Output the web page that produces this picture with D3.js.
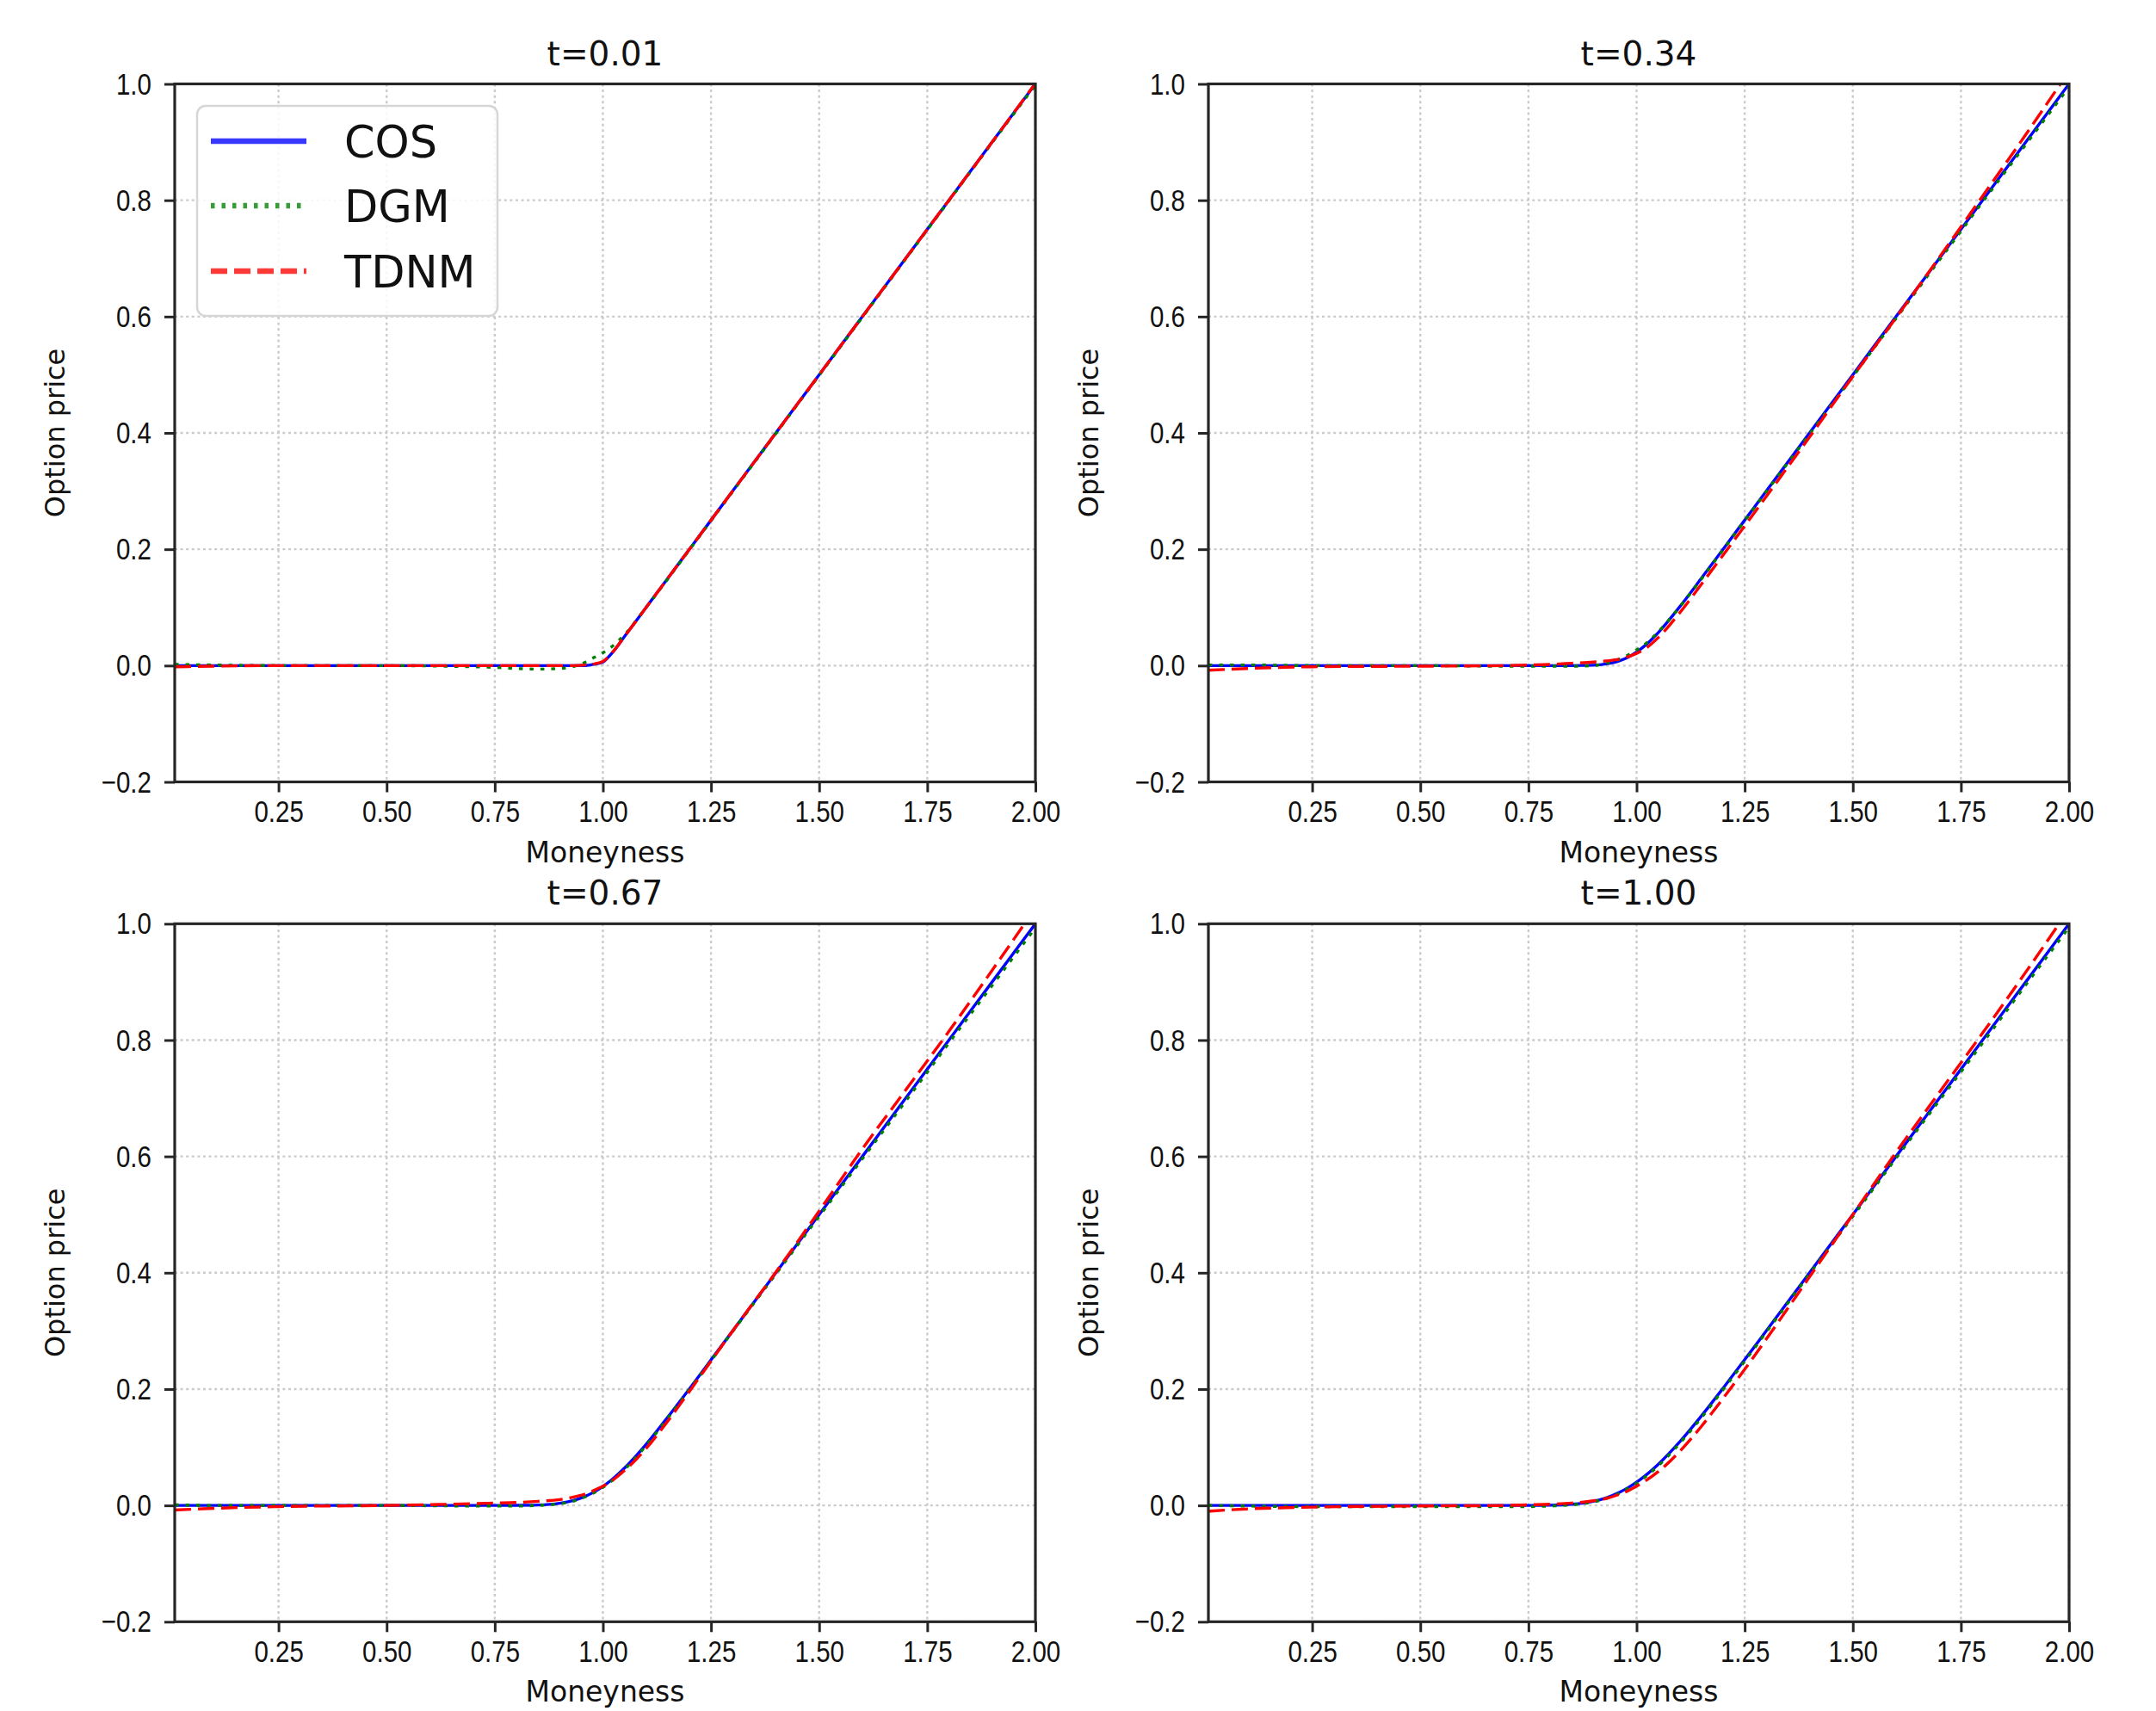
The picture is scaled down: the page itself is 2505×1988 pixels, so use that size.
<!DOCTYPE html>
<html>
<head>
<meta charset="utf-8">
<script src="https://cdn.jsdelivr.net/npm/d3@7"></script>
<style>
body{margin:0;background:#fff;}
svg{display:block;font-family:"DejaVu Sans",sans-serif;}
</style>
</head>
<body>
<script>
//moneyness grid shared by every panel
var moneyness=[0.01,0.1,0.25,0.5,0.7,0.75,0.8,0.85,0.9,0.93,0.96,0.98,1.0,1.02,1.05,1.1,1.15,1.2,1.25,1.3,1.4,1.5,1.6,1.7,1.8,1.9,2.0];

//panel titles and legend names
var titles=["t=0.01","t=0.34","t=0.67","t=1.00"];
var methods=["COS","DGM","TDNM"];

//tick values
var xTicks=[0.25,0.50,0.75,1.00,1.25,1.50,1.75,2.00];
var yTicks=[-0.2,0.0,0.2,0.4,0.6,0.8,1.0];

//t=0.01
var cos001=[0,0,0,0,0,0,0,0,0,0,0.0002,0.0023,0.006,0.0205,0.05,0.1,0.15,0.2,0.25,0.3,0.4,0.5,0.6,0.7,0.8,0.9,1.0];
var dgm001=[0.002,0.001,0,0,-0.002,-0.003,-0.005,-0.006,-0.005,-0.002,0.006,0.014,0.022,0.032,0.053,0.1,0.149,0.199,0.249,0.299,0.399,0.499,0.599,0.699,0.799,0.899,0.998];
var tdnm001=[-0.002,-0.001,0,0,0,0,0,0,0,0,0.001,0.003,0.007,0.021,0.05,0.1,0.15,0.2,0.25,0.3,0.4,0.5,0.6,0.7,0.8,0.9,1.001];

//t=0.34
var cos034=[0,0,0,0,0,0,0,0,0.0007,0.0029,0.0081,0.0143,0.0233,0.0347,0.0566,0.1013,0.1502,0.2,0.25,0.3,0.4,0.5,0.6,0.7,0.8,0.9,1.0];
var dgm034=[0.001,0.001,0,0,-0.001,-0.001,-0.001,-0.001,0,0.004,0.011,0.018,0.027,0.037,0.058,0.101,0.149,0.199,0.249,0.299,0.398,0.497,0.597,0.697,0.797,0.896,0.995];
var tdnm034=[-0.008,-0.005,-0.002,-0.001,0,0.001,0.002,0.004,0.006,0.008,0.011,0.015,0.021,0.029,0.048,0.091,0.14,0.19,0.24,0.291,0.393,0.497,0.598,0.702,0.807,0.913,1.022];

//t=0.67
var cos067=[0,0,0,0,0,0,0.0001,0.0007,0.0037,0.0081,0.0159,0.0233,0.0327,0.0439,0.0642,0.1052,0.1517,0.2004,0.2501,0.3,0.4,0.5,0.6,0.7,0.8,0.9,1.0];
var dgm067=[0.001,0,0,0,-0.001,-0.001,-0.001,0,0.003,0.007,0.015,0.022,0.031,0.042,0.062,0.103,0.15,0.199,0.249,0.299,0.398,0.497,0.596,0.695,0.795,0.894,0.993];
var tdnm067=[-0.008,-0.005,-0.002,0,0.003,0.004,0.005,0.007,0.01,0.014,0.02,0.026,0.033,0.042,0.06,0.098,0.145,0.196,0.248,0.3,0.401,0.506,0.613,0.714,0.815,0.92,1.027];

//t=1.00
var cos100=[0,0,0,0,0,0,0.0004,0.002,0.0071,0.0131,0.0223,0.0303,0.0399,0.0511,0.0706,0.1095,0.1539,0.2015,0.2505,0.3002,0.4,0.5,0.6,0.7,0.8,0.9,1.0];
var dgm100=[0,-0.001,-0.002,-0.002,-0.002,-0.002,-0.001,0.001,0.006,0.012,0.021,0.029,0.038,0.049,0.068,0.107,0.151,0.199,0.248,0.298,0.398,0.497,0.597,0.696,0.795,0.895,0.994];
var tdnm100=[-0.01,-0.006,-0.003,-0.001,0,0.001,0.002,0.004,0.008,0.012,0.019,0.025,0.033,0.042,0.058,0.093,0.136,0.184,0.234,0.286,0.393,0.5,0.607,0.71,0.812,0.917,1.025];

(function(){
	var width=2505,
		height=1988;

	//series per panel, in plot order (COS, DGM, TDNM)
	var panelSeries=[
		[cos001,dgm001,tdnm001],
		[cos034,dgm034,tdnm034],
		[cos067,dgm067,tdnm067],
		[cos100,dgm100,tdnm100]
	];

	//line styles for the three methods
	var styles=[
		{color:"#0000ff",dash:null},
		{color:"#008000",dash:"4.5,8"},
		{color:"#ff0000",dash:"19,8"}
	];

	//panel frames
	var colX=[203,1404],
		rowY=[97.5,1073.3],
		panelW=1000,
		panelH=811;

	var svg=d3.select("body")
		.append("svg")
		.attr("width",width)
		.attr("height",height);

	var defs=svg.append("defs");

	titles.forEach(function(title,i){
		var x0=colX[i%2],
			y0=rowY[Math.floor(i/2)];
		drawPanel(i,title,x0,y0,panelSeries[i],i==0);
	});

	function drawPanel(idx,title,x0,y0,series,withLegend){
		var xScale=d3.scaleLinear()
			.domain([0.01,2.0])
			.range([0,panelW]);
		var yScale=d3.scaleLinear()
			.domain([-0.2,1.0])
			.range([panelH,0]);

		var g=svg.append("g")
			.attr("transform","translate("+x0+","+y0+")");

		//clip for the curves
		defs.append("clipPath")
			.attr("id","clip"+idx)
			.append("rect")
			.attr("width",panelW)
			.attr("height",panelH);

		//dotted grid
		g.selectAll(".vgrid")
			.data(xTicks)
			.enter()
			.append("line")
			.attr("x1",function(d){return xScale(d);})
			.attr("x2",function(d){return xScale(d);})
			.attr("y1",0)
			.attr("y2",panelH)
			.attr("stroke","#cbcbcb")
			.attr("stroke-width",2.4)
			.attr("stroke-dasharray","3,3.6");
		g.selectAll(".hgrid")
			.data(yTicks)
			.enter()
			.append("line")
			.attr("x1",0)
			.attr("x2",panelW)
			.attr("y1",function(d){return yScale(d);})
			.attr("y2",function(d){return yScale(d);})
			.attr("stroke","#cbcbcb")
			.attr("stroke-width",2.4)
			.attr("stroke-dasharray","3,3.6");

		//curves
		var line=d3.line()
			.x(function(d,i){return xScale(moneyness[i]);})
			.y(function(d){return yScale(d);})
			.curve(d3.curveMonotoneX);

		var curves=g.append("g")
			.attr("clip-path","url(#clip"+idx+")");
		series.forEach(function(vals,k){
			curves.append("path")
				.datum(vals)
				.attr("d",line)
				.attr("fill","none")
				.attr("stroke",styles[k].color)
				.attr("stroke-width",3.4)
				.attr("stroke-dasharray",styles[k].dash);
		});

		//axes
		var xAxis=d3.axisBottom(xScale)
			.tickValues(xTicks)
			.tickFormat(d3.format(".2f"))
			.tickSizeOuter(0)
			.tickSize(12)
			.tickPadding(9);
		var yAxis=d3.axisLeft(yScale)
			.tickValues(yTicks)
			.tickFormat(d3.format(".1f"))
			.tickSizeOuter(0)
			.tickSize(12)
			.tickPadding(21);

		var gx=g.append("g")
			.attr("transform","translate(0,"+panelH+")")
			.call(xAxis);
		var gy=g.append("g")
			.call(yAxis);

		[gx,gy].forEach(function(ax){
			ax.select(".domain").remove();
			ax.selectAll(".tick line")
				.attr("stroke","#262626")
				.attr("stroke-width",3);
			ax.selectAll(".tick text")
				.attr("fill","#111")
				.style("font-size","36px")
				.attr("transform","scale(0.82,1)");
		});

		//frame
		g.append("rect")
			.attr("width",panelW)
			.attr("height",panelH)
			.attr("fill","none")
			.attr("stroke","#262626")
			.attr("stroke-width",3.2);

		//title and axis labels
		g.append("text")
			.attr("x",panelW/2)
			.attr("y",-22)
			.attr("text-anchor","middle")
			.style("font-size","39px")
			.attr("fill","#111")
			.text(title);

		g.append("text")
			.attr("x",panelW/2)
			.attr("y",panelH+93)
			.attr("text-anchor","middle")
			.style("font-size","33px")
			.attr("fill","#111")
			.text("Moneyness");

		g.append("text")
			.attr("transform","translate(-128,"+(panelH/2)+") rotate(-90)")
			.attr("text-anchor","middle")
			.style("font-size","32px")
			.attr("fill","#111")
			.text("Option price");

		if (withLegend){
			setLegend(g);
		};
	};

	//legend in the first panel
	function setLegend(g){
		var legend=g.append("g")
			.attr("class","legend");

		legend.append("rect")
			.attr("x",26)
			.attr("y",25.5)
			.attr("width",349)
			.attr("height",244)
			.attr("rx",10)
			.attr("fill","#fff")
			.attr("fill-opacity",0.85)
			.attr("stroke","#d6d6d6")
			.attr("stroke-width",2.5);

		var rowYs=[66.5,141.5,217.5];
		methods.forEach(function(name,k){
			legend.append("line")
				.attr("x1",42)
				.attr("x2",153)
				.attr("y1",rowYs[k])
				.attr("y2",rowYs[k])
				.attr("stroke",styles[k].color)
				.attr("stroke-opacity",0.78)
				.attr("stroke-width",6.5)
				.attr("stroke-dasharray",styles[k].dash);
			legend.append("text")
				.attr("x",197)
				.attr("y",rowYs[k]+19)
				.style("font-size","51px")
				.attr("fill","#111")
				.text(name);
		});
	};
})();
</script>
</body>
</html>
